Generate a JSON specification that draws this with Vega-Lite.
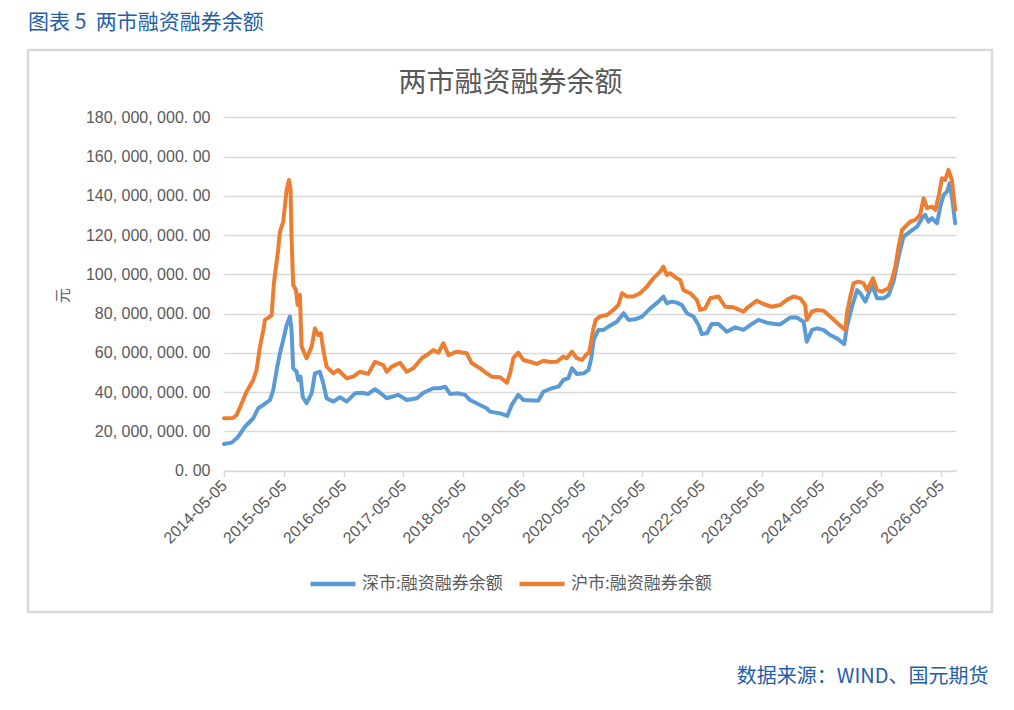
{
  "$schema": "https://vega.github.io/schema/vega-lite/v6.json",
  "autosize": {"type": "none"},
  "padding": {"left": 28, "top": 50, "right": 22, "bottom": 98},
  "width": 964,
  "height": 562,
  "background": "white",
  "config": {
    "view": {"stroke": "#d9d9d9", "strokeWidth": 2.5},
    "font": "Noto Sans CJK SC"
  },
  "title": {
    "text": "图表 5\u00a0\u00a0两市融资融券余额",
    "anchor": "start",
    "frame": "group",
    "offset": -4,
    "baseline": "bottom",
    "fontSize": 21,
    "fontWeight": "normal",
    "font": "Noto Sans CJK SC",
    "color": "#245ea8"
  },
  "data": {
    "values": [
      {"date": "2014-05-05", "market": "深市:融资融券余额", "balance": 13600000},
      {"date": "2014-06-21", "market": "深市:融资融券余额", "balance": 14300000},
      {"date": "2014-07-31", "market": "深市:融资融券余额", "balance": 17300000},
      {"date": "2014-09-10", "market": "深市:融资融券余额", "balance": 22400000},
      {"date": "2014-10-31", "market": "深市:融资融券余额", "balance": 26700000},
      {"date": "2014-11-30", "market": "深市:融资融券余额", "balance": 31800000},
      {"date": "2015-01-01", "market": "深市:融资融券余额", "balance": 33500000},
      {"date": "2015-02-10", "market": "深市:融资融券余额", "balance": 36000000},
      {"date": "2015-03-02", "market": "深市:融资融券余额", "balance": 41100000},
      {"date": "2015-03-23", "market": "深市:融资融券余额", "balance": 51300000},
      {"date": "2015-04-12", "market": "深市:融资融券余额", "balance": 59800000},
      {"date": "2015-05-02", "market": "深市:融资融券余额", "balance": 66600000},
      {"date": "2015-05-23", "market": "深市:融资融券余额", "balance": 74200000},
      {"date": "2015-06-12", "market": "深市:融资融券余额", "balance": 78500000},
      {"date": "2015-06-22", "market": "深市:融资融券余额", "balance": 71700000},
      {"date": "2015-07-02", "market": "深市:融资融券余额", "balance": 52200000},
      {"date": "2015-07-23", "market": "深市:融资融券余额", "balance": 50400000},
      {"date": "2015-08-02", "market": "深市:融资融券余额", "balance": 46200000},
      {"date": "2015-08-16", "market": "深市:融资融券余额", "balance": 47900000},
      {"date": "2015-08-29", "market": "深市:融资融券余额", "balance": 37700000},
      {"date": "2015-09-22", "market": "深市:融资融券余额", "balance": 34300000},
      {"date": "2015-10-23", "market": "深市:融资融券余额", "balance": 39400000},
      {"date": "2015-11-12", "market": "深市:融资融券余额", "balance": 49600000},
      {"date": "2015-12-12", "market": "深市:融资融券余额", "balance": 50400000},
      {"date": "2016-01-02", "market": "深市:融资融券余额", "balance": 44500000},
      {"date": "2016-01-22", "market": "深市:融资融券余额", "balance": 36900000},
      {"date": "2016-03-03", "market": "深市:融资融券余额", "balance": 35200000},
      {"date": "2016-04-13", "market": "深市:融资融券余额", "balance": 37400000},
      {"date": "2016-05-24", "market": "深市:融资融券余额", "balance": 35200000},
      {"date": "2016-07-14", "market": "深市:融资融券余额", "balance": 39400000},
      {"date": "2016-08-24", "market": "深市:融资融券余额", "balance": 39700000},
      {"date": "2016-10-03", "market": "深市:融资融券余额", "balance": 39100000},
      {"date": "2016-11-13", "market": "深市:融资融券余额", "balance": 41500000},
      {"date": "2016-12-14", "market": "深市:融资融券余额", "balance": 39700000},
      {"date": "2017-01-24", "market": "深市:融资融券余额", "balance": 36900000},
      {"date": "2017-04-05", "market": "深市:融资融券余额", "balance": 38600000},
      {"date": "2017-05-26", "market": "深市:融资融券余额", "balance": 36000000},
      {"date": "2017-07-27", "market": "深市:融资融券余额", "balance": 36900000},
      {"date": "2017-09-05", "market": "深市:融资融券余额", "balance": 39700000},
      {"date": "2017-11-05", "market": "深市:融资融券余额", "balance": 42000000},
      {"date": "2017-12-16", "market": "深市:融资融券余额", "balance": 42000000},
      {"date": "2018-01-16", "market": "深市:融资融券余额", "balance": 42800000},
      {"date": "2018-02-15", "market": "深市:融资融券余额", "balance": 39100000},
      {"date": "2018-04-07", "market": "深市:融资融券余额", "balance": 39400000},
      {"date": "2018-05-18", "market": "深市:融资融券余额", "balance": 38600000},
      {"date": "2018-06-17", "market": "深市:融资融券余额", "balance": 36000000},
      {"date": "2018-08-17", "market": "深市:融资融券余额", "balance": 33500000},
      {"date": "2018-09-27", "market": "深市:融资融券余额", "balance": 31800000},
      {"date": "2018-10-17", "market": "深市:融资融券余额", "balance": 30100000},
      {"date": "2018-12-18", "market": "深市:融资融券余额", "balance": 29200000},
      {"date": "2019-01-31", "market": "深市:融资融券余额", "balance": 27900000},
      {"date": "2019-02-27", "market": "深市:融资融券余额", "balance": 33500000},
      {"date": "2019-04-08", "market": "深市:融资融券余额", "balance": 38600000},
      {"date": "2019-05-09", "market": "深市:融资融券余额", "balance": 36000000},
      {"date": "2019-07-09", "market": "深市:融资融券余额", "balance": 35700000},
      {"date": "2019-08-09", "market": "深市:融资融券余额", "balance": 35700000},
      {"date": "2019-09-08", "market": "深市:融资融券余额", "balance": 40200000},
      {"date": "2019-10-30", "market": "深市:融资融券余额", "balance": 42000000},
      {"date": "2019-12-09", "market": "深市:融资融券余额", "balance": 42800000},
      {"date": "2020-01-09", "market": "深市:融资融券余额", "balance": 46200000},
      {"date": "2020-02-08", "market": "深市:融资融券余额", "balance": 47100000},
      {"date": "2020-03-01", "market": "深市:融资融券余额", "balance": 52200000},
      {"date": "2020-03-31", "market": "深市:融资融券余额", "balance": 49300000},
      {"date": "2020-05-11", "market": "深市:融资融券余额", "balance": 49600000},
      {"date": "2020-06-10", "market": "深市:融资融券余额", "balance": 51300000},
      {"date": "2020-06-27", "market": "深市:融资融券余额", "balance": 57000000},
      {"date": "2020-07-12", "market": "深市:融资融券余额", "balance": 66600000},
      {"date": "2020-08-10", "market": "深市:融资融券余额", "balance": 71700000},
      {"date": "2020-09-10", "market": "深市:融资融券余额", "balance": 71700000},
      {"date": "2020-10-11", "market": "深市:融资融券余额", "balance": 73400000},
      {"date": "2020-12-01", "market": "深市:融资融券余额", "balance": 75900000},
      {"date": "2021-01-11", "market": "深市:融资融券余额", "balance": 80200000},
      {"date": "2021-02-10", "market": "深市:融资融券余额", "balance": 76800000},
      {"date": "2021-03-23", "market": "深市:融资融券余额", "balance": 77100000},
      {"date": "2021-05-03", "market": "深市:融资融券余额", "balance": 78500000},
      {"date": "2021-06-23", "market": "深市:融资融券余额", "balance": 82700000},
      {"date": "2021-08-12", "market": "深市:融资融券余额", "balance": 86100000},
      {"date": "2021-09-11", "market": "深市:融资融券余额", "balance": 88700000},
      {"date": "2021-10-02", "market": "深市:融资融券余额", "balance": 85300000},
      {"date": "2021-11-02", "market": "深市:融资融券余额", "balance": 86100000},
      {"date": "2021-12-02", "market": "深市:融资融券余额", "balance": 85600000},
      {"date": "2022-01-02", "market": "深市:融资融券余额", "balance": 84400000},
      {"date": "2022-02-02", "market": "深市:融资融券余额", "balance": 80200000},
      {"date": "2022-03-14", "market": "深市:融资融券余额", "balance": 78500000},
      {"date": "2022-04-14", "market": "深市:融资融券余额", "balance": 74200000},
      {"date": "2022-05-04", "market": "深市:融资融券余额", "balance": 69600000},
      {"date": "2022-06-04", "market": "深市:融资融券余额", "balance": 70000000},
      {"date": "2022-07-04", "market": "深市:融资融券余额", "balance": 74700000},
      {"date": "2022-08-14", "market": "深市:融资融券余额", "balance": 74700000},
      {"date": "2022-10-04", "market": "深市:融资融券余额", "balance": 70800000},
      {"date": "2022-11-24", "market": "深市:融资融券余额", "balance": 73000000},
      {"date": "2023-01-14", "market": "深市:融资融券余额", "balance": 71700000},
      {"date": "2023-02-24", "market": "深市:融资融券余额", "balance": 74200000},
      {"date": "2023-04-15", "market": "深市:融资融券余额", "balance": 76800000},
      {"date": "2023-06-05", "market": "深市:融资融券余额", "balance": 75400000},
      {"date": "2023-07-26", "market": "深市:融资融券余额", "balance": 74700000},
      {"date": "2023-08-26", "market": "深市:融资融券余额", "balance": 74500000},
      {"date": "2023-10-26", "market": "深市:融资融券余额", "balance": 78000000},
      {"date": "2023-12-06", "market": "深市:融资融券余额", "balance": 78000000},
      {"date": "2024-01-16", "market": "深市:融资融券余额", "balance": 75900000},
      {"date": "2024-02-05", "market": "深市:融资融券余额", "balance": 65700000},
      {"date": "2024-03-07", "market": "深市:融资融券余额", "balance": 71700000},
      {"date": "2024-04-07", "market": "深市:融资融券余额", "balance": 72500000},
      {"date": "2024-05-17", "market": "深市:融资融券余额", "balance": 71700000},
      {"date": "2024-06-27", "market": "深市:融资融券余额", "balance": 69100000},
      {"date": "2024-08-07", "market": "深市:融资融券余额", "balance": 67400000},
      {"date": "2024-09-21", "market": "深市:融资融券余额", "balance": 64500000},
      {"date": "2024-10-07", "market": "深市:融资融券余额", "balance": 73400000},
      {"date": "2024-11-07", "market": "深市:融资融券余额", "balance": 83500000},
      {"date": "2024-12-08", "market": "深市:融资融券余额", "balance": 92000000},
      {"date": "2024-12-28", "market": "深市:融资融券余额", "balance": 90400000},
      {"date": "2025-01-28", "market": "深市:融资融券余额", "balance": 86100000},
      {"date": "2025-03-10", "market": "深市:融资融券余额", "balance": 94600000},
      {"date": "2025-04-09", "market": "深市:融资融券余额", "balance": 87800000},
      {"date": "2025-05-19", "market": "深市:融资融券余额", "balance": 87800000},
      {"date": "2025-06-19", "market": "深市:融资融券余额", "balance": 89500000},
      {"date": "2025-07-19", "market": "深市:融资融券余额", "balance": 96300000},
      {"date": "2025-08-19", "market": "深市:融资融券余额", "balance": 109000000},
      {"date": "2025-09-18", "market": "深市:融资融券余额", "balance": 119200000},
      {"date": "2025-10-29", "market": "深市:融资融券余额", "balance": 121800000},
      {"date": "2025-12-10", "market": "深市:融资融券余额", "balance": 124300000},
      {"date": "2026-01-09", "market": "深市:融资融券余额", "balance": 128600000},
      {"date": "2026-01-29", "market": "深市:融资融券余额", "balance": 130300000},
      {"date": "2026-02-18", "market": "深市:融资融券余额", "balance": 126800000},
      {"date": "2026-03-11", "market": "深市:融资融券余额", "balance": 128600000},
      {"date": "2026-04-11", "market": "深市:融资融券余额", "balance": 126000000},
      {"date": "2026-05-01", "market": "深市:融资融券余额", "balance": 134500000},
      {"date": "2026-05-21", "market": "深市:融资融券余额", "balance": 140500000},
      {"date": "2026-06-11", "market": "深市:融资融券余额", "balance": 142100000},
      {"date": "2026-06-27", "market": "深市:融资融券余额", "balance": 146400000},
      {"date": "2026-07-11", "market": "深市:融资融券余额", "balance": 139600000},
      {"date": "2026-07-31", "market": "深市:融资融券余额", "balance": 126000000},
      {"date": "2014-05-05", "market": "沪市:融资融券余额", "balance": 26700000},
      {"date": "2014-06-29", "market": "沪市:融资融券余额", "balance": 26800000},
      {"date": "2014-07-21", "market": "沪市:融资融券余额", "balance": 28400000},
      {"date": "2014-08-21", "market": "沪市:融资融券余额", "balance": 34300000},
      {"date": "2014-09-20", "market": "沪市:融资融券余额", "balance": 40200000},
      {"date": "2014-10-31", "market": "沪市:融资融券余额", "balance": 46200000},
      {"date": "2014-11-20", "market": "沪市:融资融券余额", "balance": 51300000},
      {"date": "2014-12-11", "market": "沪市:融资融券余额", "balance": 63200000},
      {"date": "2015-01-01", "market": "沪市:融资融券余额", "balance": 71700000},
      {"date": "2015-01-10", "market": "沪市:融资融券余额", "balance": 76800000},
      {"date": "2015-02-10", "market": "沪市:融资融券余额", "balance": 78500000},
      {"date": "2015-02-20", "market": "沪市:融资融券余额", "balance": 79000000},
      {"date": "2015-03-06", "market": "沪市:融资融券余额", "balance": 95500000},
      {"date": "2015-04-01", "market": "沪市:融资融券余额", "balance": 112400000},
      {"date": "2015-04-12", "market": "沪市:融资融券余额", "balance": 121800000},
      {"date": "2015-05-02", "market": "沪市:融资融券余额", "balance": 126800000},
      {"date": "2015-05-12", "market": "沪市:融资融券余额", "balance": 134500000},
      {"date": "2015-05-23", "market": "沪市:融资融券余额", "balance": 143000000},
      {"date": "2015-06-06", "market": "沪市:融资融券余额", "balance": 148100000},
      {"date": "2015-06-16", "market": "沪市:融资融券余额", "balance": 143000000},
      {"date": "2015-06-22", "market": "沪市:融资融券余额", "balance": 119200000},
      {"date": "2015-07-02", "market": "沪市:融资融券余额", "balance": 94600000},
      {"date": "2015-07-19", "market": "沪市:融资融券余额", "balance": 92000000},
      {"date": "2015-07-29", "market": "沪市:融资融券余额", "balance": 84400000},
      {"date": "2015-08-12", "market": "沪市:融资融券余额", "balance": 89500000},
      {"date": "2015-08-22", "market": "沪市:融资融券余额", "balance": 63200000},
      {"date": "2015-09-22", "market": "沪市:融资融券余额", "balance": 57300000},
      {"date": "2015-10-23", "market": "沪市:融资融券余额", "balance": 63200000},
      {"date": "2015-11-12", "market": "沪市:融资融券余额", "balance": 72500000},
      {"date": "2015-12-02", "market": "沪市:融资融券余额", "balance": 69100000},
      {"date": "2015-12-18", "market": "沪市:融资融券余额", "balance": 70000000},
      {"date": "2016-01-02", "market": "沪市:融资融券余额", "balance": 61500000},
      {"date": "2016-01-22", "market": "沪市:融资融券余额", "balance": 53000000},
      {"date": "2016-03-03", "market": "沪市:融资融券余额", "balance": 49600000},
      {"date": "2016-04-02", "market": "沪市:融资融券余额", "balance": 51300000},
      {"date": "2016-05-24", "market": "沪市:融资融券余额", "balance": 47100000},
      {"date": "2016-07-03", "market": "沪市:融资融券余额", "balance": 47900000},
      {"date": "2016-08-13", "market": "沪市:融资融券余额", "balance": 50400000},
      {"date": "2016-10-03", "market": "沪市:融资融券余额", "balance": 49300000},
      {"date": "2016-11-13", "market": "沪市:融资融券余额", "balance": 55500000},
      {"date": "2017-01-03", "market": "沪市:融资融券余额", "balance": 53800000},
      {"date": "2017-01-24", "market": "沪市:融资融券余额", "balance": 50400000},
      {"date": "2017-02-24", "market": "沪市:融资融券余额", "balance": 53000000},
      {"date": "2017-04-15", "market": "沪市:融资融券余额", "balance": 55000000},
      {"date": "2017-05-26", "market": "沪市:融资融券余额", "balance": 50400000},
      {"date": "2017-07-06", "market": "沪市:融资融券余额", "balance": 52200000},
      {"date": "2017-08-26", "market": "沪市:融资融券余额", "balance": 57300000},
      {"date": "2017-09-26", "market": "沪市:融资融券余额", "balance": 58900000},
      {"date": "2017-11-05", "market": "沪市:融资融券余额", "balance": 61500000},
      {"date": "2017-12-06", "market": "沪市:融资融券余额", "balance": 60100000},
      {"date": "2018-01-05", "market": "沪市:融资融券余额", "balance": 64900000},
      {"date": "2018-02-05", "market": "沪市:融资融券余额", "balance": 58900000},
      {"date": "2018-03-28", "market": "沪市:融资融券余额", "balance": 60600000},
      {"date": "2018-05-28", "market": "沪市:融资融券余额", "balance": 59800000},
      {"date": "2018-06-28", "market": "沪市:融资融券余额", "balance": 54700000},
      {"date": "2018-08-17", "market": "沪市:融资融券余额", "balance": 52200000},
      {"date": "2018-09-27", "market": "沪市:融资融券余额", "balance": 49600000},
      {"date": "2018-10-28", "market": "沪市:融资融券余额", "balance": 47900000},
      {"date": "2018-12-18", "market": "沪市:融资融券余额", "balance": 47600000},
      {"date": "2019-01-28", "market": "沪市:融资融券余额", "balance": 44800000},
      {"date": "2019-02-17", "market": "沪市:融资融券余额", "balance": 49600000},
      {"date": "2019-03-09", "market": "沪市:融资融券余额", "balance": 57300000},
      {"date": "2019-04-08", "market": "沪市:融资融券余额", "balance": 60100000},
      {"date": "2019-05-09", "market": "沪市:融资融券余额", "balance": 56400000},
      {"date": "2019-06-19", "market": "沪市:融资融券余额", "balance": 55500000},
      {"date": "2019-07-30", "market": "沪市:融资融券余额", "balance": 54400000},
      {"date": "2019-09-08", "market": "沪市:融资融券余额", "balance": 56000000},
      {"date": "2019-10-19", "market": "沪市:融资融券余额", "balance": 55400000},
      {"date": "2019-11-29", "market": "沪市:融资融券余额", "balance": 55500000},
      {"date": "2020-01-09", "market": "沪市:融资融券余额", "balance": 58100000},
      {"date": "2020-01-29", "market": "沪市:融资融券余额", "balance": 57300000},
      {"date": "2020-03-01", "market": "沪市:融资融券余额", "balance": 60600000},
      {"date": "2020-03-31", "market": "沪市:融资融券余额", "balance": 57300000},
      {"date": "2020-05-01", "market": "沪市:融资融券余额", "balance": 56400000},
      {"date": "2020-05-31", "market": "沪市:融资融券余额", "balance": 59500000},
      {"date": "2020-06-14", "market": "沪市:融资融券余额", "balance": 60000000},
      {"date": "2020-07-01", "market": "沪市:融资融券余额", "balance": 68000000},
      {"date": "2020-07-11", "market": "沪市:融资融券余额", "balance": 72500000},
      {"date": "2020-07-24", "market": "沪市:融资融券余额", "balance": 76800000},
      {"date": "2020-08-21", "market": "沪市:融资融券余额", "balance": 78600000},
      {"date": "2020-10-01", "market": "沪市:融资融券余额", "balance": 79300000},
      {"date": "2020-11-10", "market": "沪市:融资融券余额", "balance": 81900000},
      {"date": "2020-12-10", "market": "沪市:融资融券余额", "balance": 84400000},
      {"date": "2021-01-01", "market": "沪市:融资融券余额", "balance": 90400000},
      {"date": "2021-01-31", "market": "沪市:融资融券余额", "balance": 88700000},
      {"date": "2021-03-12", "market": "沪市:融资融券余额", "balance": 88700000},
      {"date": "2021-04-22", "market": "沪市:融资融券余额", "balance": 90400000},
      {"date": "2021-06-02", "market": "沪市:融资融券余额", "balance": 93700000},
      {"date": "2021-07-12", "market": "沪市:融资融券余额", "balance": 98000000},
      {"date": "2021-08-22", "market": "沪市:融资融券余额", "balance": 101400000},
      {"date": "2021-09-11", "market": "沪市:融资融券余额", "balance": 103900000},
      {"date": "2021-10-02", "market": "沪市:融资融券余额", "balance": 99700000},
      {"date": "2021-10-22", "market": "沪市:融资融券余额", "balance": 100600000},
      {"date": "2021-12-02", "market": "沪市:融资融券余额", "balance": 98000000},
      {"date": "2021-12-23", "market": "沪市:融资融券余额", "balance": 97100000},
      {"date": "2022-01-12", "market": "沪市:融资融券余额", "balance": 92000000},
      {"date": "2022-02-22", "market": "沪市:融资融券余额", "balance": 90400000},
      {"date": "2022-04-04", "market": "沪市:融资融券余额", "balance": 87000000},
      {"date": "2022-04-24", "market": "沪市:融资融券余额", "balance": 81900000},
      {"date": "2022-05-25", "market": "沪市:融资融券余额", "balance": 82700000},
      {"date": "2022-06-24", "market": "沪市:融资融券余额", "balance": 87800000},
      {"date": "2022-08-14", "market": "沪市:融资融券余额", "balance": 88700000},
      {"date": "2022-09-24", "market": "沪市:融资融券余额", "balance": 83500000},
      {"date": "2022-11-13", "market": "沪市:融资融券余额", "balance": 83200000},
      {"date": "2023-01-14", "market": "沪市:融资融券余额", "balance": 81000000},
      {"date": "2023-02-13", "market": "沪市:融资融券余额", "balance": 83500000},
      {"date": "2023-04-05", "market": "沪市:融资融券余额", "balance": 86600000},
      {"date": "2023-05-16", "market": "沪市:融资融券余额", "balance": 84900000},
      {"date": "2023-07-06", "market": "沪市:融资融券余额", "balance": 83500000},
      {"date": "2023-08-26", "market": "沪市:融资融券余额", "balance": 84400000},
      {"date": "2023-10-06", "market": "沪市:融资融券余额", "balance": 87000000},
      {"date": "2023-11-15", "market": "沪市:融资融券余额", "balance": 88700000},
      {"date": "2023-12-26", "market": "沪市:融资融券余额", "balance": 87800000},
      {"date": "2024-01-26", "market": "沪市:融资融券余额", "balance": 84400000},
      {"date": "2024-02-05", "market": "沪市:融资融券余额", "balance": 76800000},
      {"date": "2024-03-07", "market": "沪市:融资融券余额", "balance": 81000000},
      {"date": "2024-04-07", "market": "沪市:融资融券余额", "balance": 81900000},
      {"date": "2024-05-17", "market": "沪市:融资融券余额", "balance": 81500000},
      {"date": "2024-06-27", "market": "沪市:融资融券余额", "balance": 78500000},
      {"date": "2024-08-07", "market": "沪市:融资融券余额", "balance": 75400000},
      {"date": "2024-09-27", "market": "沪市:融资融券余额", "balance": 71700000},
      {"date": "2024-10-07", "market": "沪市:融资融券余额", "balance": 80200000},
      {"date": "2024-10-28", "market": "沪市:融资融券余额", "balance": 88700000},
      {"date": "2024-11-17", "market": "沪市:融资融券余额", "balance": 95500000},
      {"date": "2024-12-17", "market": "沪市:融资融券余额", "balance": 96300000},
      {"date": "2025-01-17", "market": "沪市:融资融券余额", "balance": 95500000},
      {"date": "2025-02-07", "market": "沪市:融资融券余额", "balance": 92000000},
      {"date": "2025-03-15", "market": "沪市:融资融券余额", "balance": 98000000},
      {"date": "2025-04-09", "market": "沪市:融资融券余额", "balance": 92000000},
      {"date": "2025-05-09", "market": "沪市:融资融券余额", "balance": 91200000},
      {"date": "2025-06-19", "market": "沪市:融资融券余额", "balance": 92900000},
      {"date": "2025-07-09", "market": "沪市:融资融券余额", "balance": 97100000},
      {"date": "2025-07-30", "market": "沪市:融资融券余额", "balance": 103900000},
      {"date": "2025-08-19", "market": "沪市:融资融券余额", "balance": 114100000},
      {"date": "2025-09-09", "market": "沪市:融资融券余额", "balance": 122600000},
      {"date": "2025-10-09", "market": "沪市:融资融券余额", "balance": 125200000},
      {"date": "2025-10-29", "market": "沪市:融资融券余额", "balance": 126800000},
      {"date": "2025-11-29", "market": "沪市:融资融券余额", "balance": 127700000},
      {"date": "2025-12-29", "market": "沪市:融资融券余额", "balance": 130300000},
      {"date": "2026-01-19", "market": "沪市:融资融券余额", "balance": 138800000},
      {"date": "2026-02-09", "market": "沪市:融资融券余额", "balance": 133700000},
      {"date": "2026-03-11", "market": "沪市:融资融券余额", "balance": 134500000},
      {"date": "2026-03-31", "market": "沪市:融资融券余额", "balance": 132800000},
      {"date": "2026-04-21", "market": "沪市:融资融券余额", "balance": 139600000},
      {"date": "2026-05-11", "market": "沪市:融资融券余额", "balance": 149000000},
      {"date": "2026-05-31", "market": "沪市:融资融券余额", "balance": 148100000},
      {"date": "2026-06-20", "market": "沪市:融资融券余额", "balance": 153200000},
      {"date": "2026-07-11", "market": "沪市:融资融券余额", "balance": 148100000},
      {"date": "2026-07-31", "market": "沪市:融资融券余额", "balance": 132800000}
    ]
  },
  "encoding": {
    "y": {
      "field": "balance",
      "type": "quantitative",
      "scale": {"domain": [0, 180000000], "range": [420.7, 67.3], "nice": false, "zero": true},
      "axis": {
        "orient": "left",
        "offset": -196,
        "values": [0, 20000000, 40000000, 60000000, 80000000, 100000000, 120000000, 140000000, 160000000, 180000000],
        "labelExpr": "replace(replace(format(datum.value, ',.2f'), regexp(',', 'g'), ', '), '.', '. ')",
        "labelFont": "Liberation Sans",
        "labelFontSize": 16,
        "labelColor": "#595959",
        "labelPadding": 14,
        "ticks": false,
        "tickSize": 0,
        "domain": false,
        "grid": true,
        "gridColor": "#d9d9d9",
        "gridWidth": 1.5,
        "title": "元",
        "titleFont": "Noto Sans CJK SC",
        "titleFontSize": 15,
        "titleFontWeight": "normal",
        "titleColor": "#595959",
        "titleAngle": -90,
        "titleX": -162,
        "titleY": 245,
        "titleAlign": "center",
        "titleBaseline": "middle"
      }
    }
  },
  "layer": [
    {
      "mark": {"type": "line", "strokeWidth": 4, "strokeJoin": "round", "strokeCap": "round"},
      "encoding": {
        "x": {
          "field": "date",
          "type": "temporal",
          "scale": {
            "type": "utc",
            "domain": [{"year": 2014, "month": 5, "date": 5, "utc": true}, {"year": 2026, "month": 8, "date": 5, "utc": true}],
            "range": [196, 928],
            "nice": false
          },
          "axis": {
            "orient": "bottom",
            "offset": -141.3,
            "values": [
              {"year": 2014, "month": 5, "date": 5, "utc": true},
              {"year": 2015, "month": 5, "date": 5, "utc": true},
              {"year": 2016, "month": 5, "date": 5, "utc": true},
              {"year": 2017, "month": 5, "date": 5, "utc": true},
              {"year": 2018, "month": 5, "date": 5, "utc": true},
              {"year": 2019, "month": 5, "date": 5, "utc": true},
              {"year": 2020, "month": 5, "date": 5, "utc": true},
              {"year": 2021, "month": 5, "date": 5, "utc": true},
              {"year": 2022, "month": 5, "date": 5, "utc": true},
              {"year": 2023, "month": 5, "date": 5, "utc": true},
              {"year": 2024, "month": 5, "date": 5, "utc": true},
              {"year": 2025, "month": 5, "date": 5, "utc": true},
              {"year": 2026, "month": 5, "date": 5, "utc": true}
            ],
            "format": "%Y-%m-%d",
            "labelAngle": -45,
            "labelAlign": "right",
            "labelBaseline": "middle",
            "labelFont": "Liberation Sans",
            "labelFontSize": 16,
            "labelColor": "#595959",
            "labelPadding": 6,
            "labelFlush": false,
            "labelOverlap": false,
            "labelBound": false,
            "domainColor": "#d9d9d9",
            "domainWidth": 1.5,
            "tickColor": "#d9d9d9",
            "tickWidth": 1.5,
            "tickSize": 6,
            "grid": false,
            "title": "数据来源：WIND、国元期货",
            "titleFont": "Noto Sans CJK SC",
            "titleFontSize": 20,
            "titleFontWeight": "normal",
            "titleColor": "#245ea8",
            "titleX": 960,
            "titleY": 206,
            "titleAlign": "right",
            "titleBaseline": "middle",
            "titleAngle": 0
          }
        },
        "color": {
          "field": "market",
          "type": "nominal",
          "scale": {"domain": ["深市:融资融券余额", "沪市:融资融券余额"], "range": ["#5b9bd5", "#ed7d31"]},
          "legend": {
            "title": null,
            "orient": "none",
            "legendX": 280,
            "legendY": 509,
            "direction": "horizontal",
            "padding": 0,
            "symbolType": "stroke",
            "symbolSize": 2025,
            "symbolStrokeWidth": 4.5,
            "labelFont": "Noto Sans CJK SC",
            "labelFontSize": 17,
            "labelColor": "#595959",
            "labelOffset": 4,
            "labelLimit": 300,
            "columnPadding": 7
          }
        }
      }
    },
    {
      "mark": {"type": "line", "opacity": 0},
      "encoding": {
        "x": {
          "field": "date",
          "type": "temporal",
          "scale": {
            "type": "utc",
            "domain": [{"year": 2014, "month": 5, "date": 5, "utc": true}, {"year": 2026, "month": 8, "date": 5, "utc": true}],
            "range": [196, 928],
            "nice": false
          },
          "axis": {
            "orient": "top",
            "labels": false,
            "ticks": false,
            "domain": false,
            "grid": false,
            "title": "两市融资融券余额",
            "titleFont": "Noto Sans CJK SC",
            "titleFontSize": 28,
            "titleFontWeight": "normal",
            "titleColor": "#595959",
            "titleX": 482,
            "titleY": 33,
            "titleAlign": "center",
            "titleBaseline": "middle",
            "titleAngle": 0
          }
        }
      }
    }
  ],
  "resolve": {"axis": {"x": "independent"}}
}
